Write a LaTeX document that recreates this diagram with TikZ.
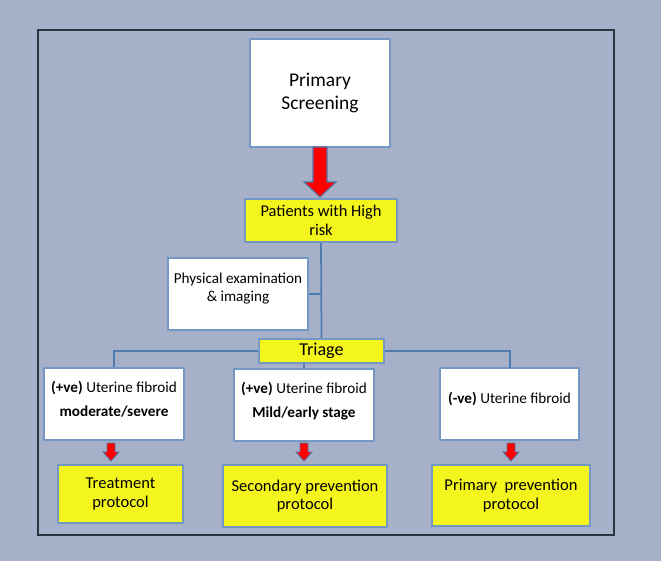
\documentclass[tikz,border=0pt]{standalone}
\usepackage{fontspec}
\setmainfont{Carlito}
\definecolor{bgcol}{HTML}{A6B0C9}
\definecolor{framecol}{HTML}{2A3340}
\definecolor{edgecol}{HTML}{7498C4}
\definecolor{linecol}{HTML}{4F7CB0}
\definecolor{yel}{HTML}{F5F51E}
\definecolor{arrowedge}{HTML}{5573A8}
\begin{document}
\begin{tikzpicture}[x=0.75pt,y=-0.75pt,
  box/.style={draw=edgecol,line width=1.3pt,inner sep=0pt,align=center},
  wbox/.style={box,fill=white},
  ybox/.style={box,fill=yel},
  conn/.style={draw=linecol,line width=1.3pt},
  redarrow/.style={fill=red,draw=arrowedge,line width=0.8pt},
  txt/.style={inner sep=0pt,align=center,font=\fontsize{11.4}{13.5}\selectfont}]
\fill[bgcol] (0,0) rectangle (661,561);
\useasboundingbox (0,0) rectangle (661,561);
\draw[framecol,line width=1.3pt] (38,30) rectangle (614,535);

% nodes
\node[wbox,minimum width=140*0.75pt,minimum height=108*0.75pt,font=\fontsize{14.6}{17}\selectfont] (ps) at (320,93) {Primary\\Screening};
\node[ybox,minimum width=152*0.75pt,minimum height=43*0.75pt,font=\fontsize{12.3}{14}\selectfont] (risk) at (321,220.5) {Patients with High\\risk};
\node[wbox,minimum width=140*0.75pt,minimum height=72*0.75pt] (phys) at (238,294) {};
\node[txt] (physt) at (238,289) {Physical examination\\\& imaging};
\node[ybox,minimum width=125*0.75pt,minimum height=24*0.75pt,font=\fontsize{13.6}{15}\selectfont] (triage) at (321.5,351) {Triage};

\node[wbox,minimum width=140*0.75pt,minimum height=72*0.75pt] (lb) at (114,404) {};
\node[txt,font=\fontsize{11.4}{18}\selectfont] (lbt) at (114,399) {\textbf{(+ve)} Uterine fibroid\\\textbf{moderate/severe}};
\node[wbox,minimum width=140*0.75pt,minimum height=72*0.75pt] (mb) at (304,405) {};
\node[txt,font=\fontsize{11.4}{18}\selectfont] (mbt) at (304,401) {\textbf{(+ve)} Uterine fibroid\\\textbf{Mild/early stage}};
\node[wbox,minimum width=139*0.75pt,minimum height=72*0.75pt] (rb) at (509.5,404) {};
\node[txt] (rbt) at (509.5,399) {\textbf{(-ve)} Uterine fibroid};

\node[ybox,minimum width=125*0.75pt,minimum height=58*0.75pt,font=\fontsize{12.4}{14}\selectfont] (bl) at (120.5,494) {Treatment\\protocol};
\node[ybox,minimum width=164*0.75pt,minimum height=62*0.75pt,font=\fontsize{12.4}{14}\selectfont] (bm) at (305,496) {Secondary prevention\\protocol};
\node[ybox,minimum width=158*0.75pt,minimum height=61*0.75pt,font=\fontsize{12.4}{14}\selectfont] (br) at (511,495.5) {Primary\ \ prevention\\protocol};

% connectors
\coordinate (vx) at (321,294);
\draw[conn] (risk.south) -- (triage.north);
\draw[conn] (phys.east) -- (vx);
\draw[conn] (triage.west) -- (114,351) -- (lb.north);
\draw[conn] (triage.east) -- (510,351) -- (510,368);
\draw[conn] (304,363) -- (304,369);

% big arrow
\draw[redarrow] (313,147) -- (327,147) -- (327,182) -- (336,182) -- (320,197) -- (304,182) -- (313,182) -- cycle;
% small arrows
\foreach \cx/\nm in {111/a1,304/a2,511/a3}{
  \draw[redarrow,line width=0.6pt] (\cx-4,443) -- (\cx+4,443) -- (\cx+4,452) -- (\cx+8,452) -- (\cx,461) -- (\cx-8,452) -- (\cx-4,452) -- cycle;
}
\end{tikzpicture}
\end{document}
